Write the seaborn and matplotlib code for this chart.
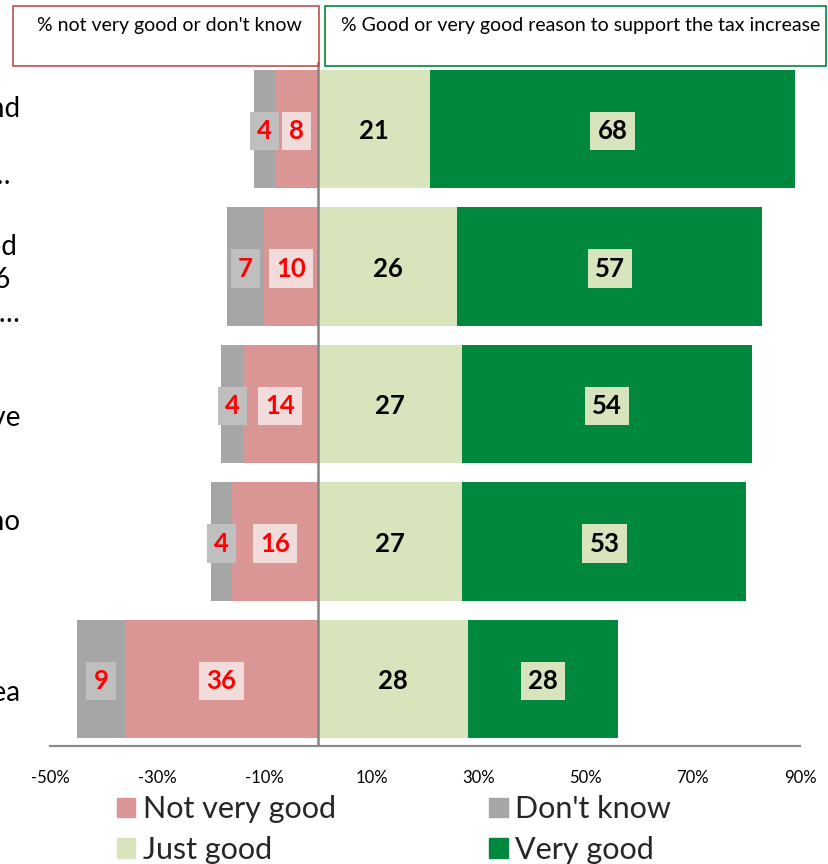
import numpy as np
import pandas as pd
import matplotlib
matplotlib.use("Agg")
import matplotlib.pyplot as plt
import matplotlib.transforms as mtransforms
from matplotlib.patches import Rectangle, Patch
import seaborn as sns

# Survey results (percent of respondents)
categories = [
    "Keep schools open and\nfund teachers\nin each local district…",
    "Restore grants reduced\nduring 2005 and 2006\nso as to improve them…",
    "Keep our state\neconomy strong and improve\nthe quality of life",
    "Make sure that people who have no\nhealth insurance\ncan get care",
    "To fund a new project in our area",
]
not_very_good = np.array([8, 10, 14, 16, 36])
dont_know = np.array([4, 7, 4, 4, 9])
just_good = np.array([21, 26, 27, 27, 28])
very_good = np.array([68, 57, 54, 53, 28])

tick_values = [-50, -30, -10, 10, 30, 50, 70, 90]
tick_labels = ["-50%", "-30%", "-10%", "10%", "30%", "50%", "70%", "90%"]

C_NVG = "#DA9694"
C_DK = "#A6A6A6"
C_JG = "#D8E4BC"
C_VG = "#00893E"

sns.set_theme(style="white")
plt.rcParams["font.family"] = ["Lato", "DejaVu Sans"]

W, H = 829, 864
fig = plt.figure(figsize=(W / 100, H / 100), dpi=100)

def fx(x):
    return x / W

def fy(y):
    return 1 - y / H

ax = fig.add_axes([fx(50), fy(746), fx(800) - fx(50), fy(62) - fy(746)])

df = pd.DataFrame({
    "category": categories,
    "left_total": -(not_very_good + dont_know),
    "left_nvg": -not_very_good,
    "right_total": just_good + very_good,
    "right_jg": just_good,
})

bar_w = 0.86
common = dict(y="category", orient="h", width=bar_w, saturation=1,
              linewidth=0, ax=ax)
sns.barplot(data=df, x="left_total", color=C_DK, **common)
sns.barplot(data=df, x="left_nvg", color=C_NVG, **common)
sns.barplot(data=df, x="right_total", color=C_VG, **common)
sns.barplot(data=df, x="right_jg", color=C_JG, **common)

ax.set_xlim(-50, 90)
ax.set_ylim(len(categories) - 1 + 0.487, -0.487)
ax.set_xticks(tick_values)
ax.set_xticklabels(tick_labels)
ax.tick_params(axis="x", length=0, pad=17, labelsize=12, colors="black")
ax.set_yticks([])
ax.set_xlabel("")
ax.set_ylabel("")
for s in ["top", "right", "left"]:
    ax.spines[s].set_visible(False)
ax.spines["bottom"].set_color("#8C8C8C")
ax.spines["bottom"].set_linewidth(1.6)
ax.axvline(0, color="#868686", lw=1.8, zorder=5)

# Segment value labels
lab_fs = 18.5
box = dict(boxstyle="square,pad=0.28", ec="none")
dy = 0.015
for i in range(len(categories)):
    nv, dk, jg, vg = not_very_good[i], dont_know[i], just_good[i], very_good[i]
    ax.text(-nv / 2, i + dy, f"{nv}", ha="center", va="center", fontsize=lab_fs,
            fontweight="bold", color="#FF0000", zorder=6,
            bbox=dict(box, fc="#F2DCDB"))
    ax.text(-nv - dk / 2, i + dy, f"{dk}", ha="center", va="center",
            fontsize=lab_fs, fontweight="bold", color="#FF0000", zorder=6,
            bbox=dict(box, fc="#BFBFBF"))
    ax.text(jg / 2, i + dy, f"{jg}", ha="center", va="center", fontsize=lab_fs,
            fontweight="bold", color="black", zorder=6)
    ax.text(jg + vg / 2, i + dy, f"{vg}", ha="center", va="center",
            fontsize=lab_fs, fontweight="bold", color="black", zorder=6,
            bbox=dict(box, fc=C_JG))

# Category labels at the left edge
tr = mtransforms.blended_transform_factory(fig.transFigure, ax.transData)
for i, cat in enumerate(categories):
    ax.text(fx(20), i + 0.1, cat, transform=tr, ha="right", va="center",
            multialignment="center", fontsize=20, color="black",
            linespacing=1.35, clip_on=False)

# Header boxes
fig.add_artist(Rectangle((fx(13), fy(66)), fx(319) - fx(13), fy(6) - fy(66),
                         transform=fig.transFigure, fill=False,
                         ec="#C0504D", lw=1.2))
fig.add_artist(Rectangle((fx(325), fy(66)), fx(826) - fx(325), fy(6) - fy(66),
                         transform=fig.transFigure, fill=False,
                         ec="#00883C", lw=1.2))
fig.text(fx(37), fy(25), "% not very good or don't know", ha="left",
         va="center", fontsize=14, color="black")
fig.text(fx(341), fy(25), "% Good or very good reason to support the tax increase",
         ha="left", va="center", fontsize=14, color="black")

# Legend
handles = [Patch(color=C_NVG, label="Not very good"),
           Patch(color=C_JG, label="Just good"),
           Patch(color=C_DK, label="Don't know"),
           Patch(color=C_VG, label="Very good")]
fig.legend(handles=handles, ncol=2, loc="upper left",
           bbox_to_anchor=(fx(117), fy(795)), frameon=False, fontsize=22,
           handlelength=0.6, handleheight=0.6, handletextpad=0.26,
           columnspacing=5.0, labelspacing=0.42, borderpad=0, borderaxespad=0)

fig.savefig("out.png", dpi=100)
